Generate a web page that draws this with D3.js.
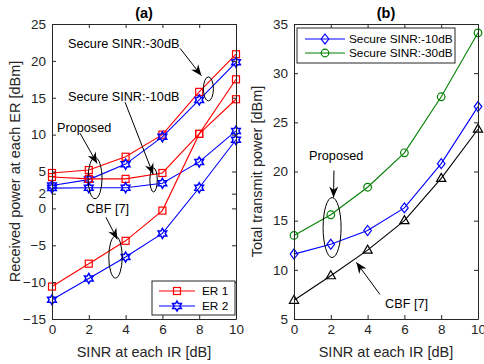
<!DOCTYPE html>
<head>
  <meta charset="utf-8">
  <title> Received and transmit power </title>
  <script src="https://d3js.org/d3.v7.min.js"></script>
  <style type="text/css">
    body {margin: 0; background: #fff;}
    text {font-family: 'Liberation Sans', Arial, sans-serif;}
    .tick line, .domain {stroke: #262626;}
  </style>
</head>

<body>
  <div id="viz"></div>
</body>

<script type="text/javascript">

  const sinr = [0, 2, 4, 6, 8, 10];

  // (a) received power at each ER [dBm]
  const er1Sec30 = [4.8, 5.2, 7.0, 10.0, 15.8, 20.9];
  const er2Sec30 = [3.1, 3.9, 6.0, 9.7, 14.7, 19.8];
  const er1Sec10 = [4.25, 4.0, 4.0, 4.8, 10.1, 14.8];
  const er2Sec10 = [2.75, 2.8, 2.8, 3.4, 6.3, 10.5];
  const er1Cbf = [-10.6, -7.5, -4.4, -0.3, 10.1, 17.5];
  const er2Cbf = [-12.4, -9.5, -6.6, -3.4, 2.8, 9.3];

  // (b) total transmit power [dBm]
  const totSec10 = [11.6, 12.6, 14.0, 16.3, 20.8, 26.6];
  const totSec30 = [13.5, 15.6, 18.4, 21.9, 27.6, 34.1];
  const totCbf = [6.9, 9.4, 12.0, 15.0, 19.3, 24.3];

  const xTicks = [0, 2, 4, 6, 8, 10];
  const yTicksA = [-15, -10, -5, 0, 2, 5, 10, 15, 20, 25];
  const yTicksB = [5, 10, 15, 20, 25, 30, 35];

  const legendA = ["ER 1", "ER 2"];
  const legendB = ["Secure SINR:-10dB", "Secure SINR:-30dB"];

  const colorSet = {
    "red": "#ff0000",
    "blue": "#0000ff",
    "green": "#008000",
    "black": "#000000",
    "axis": "#262626"
  };

  const FULLW = 484;
  const FULLH = 364;
  const TOP = 24, BOTTOM = 319;

  let svg = d3.select("#viz").append("svg")
    .attr("width", FULLW)
    .attr("height", FULLH);

  svg.append("rect").attr("width", FULLW).attr("height", FULLH).attr("fill", "#fff");

  // marker shapes
  function square(g, x, y, c) {
    g.append("rect").attr("x", x - 3.5).attr("y", y - 3.5).attr("width", 7).attr("height", 7)
      .attr("fill", "none").attr("stroke", c).attr("stroke-width", 1.2);
  }
  function hexagram(g, x, y, c) {
    const R = 5, r = R / Math.sqrt(3);
    const pts = [];
    for (let k = 0; k < 12; k++) {
      const a = -Math.PI / 2 + k * Math.PI / 6;
      const rr = k % 2 === 0 ? R : r;
      pts.push([x + rr * Math.cos(a), y + rr * Math.sin(a)]);
    }
    g.append("polygon").attr("points", pts.join(" "))
      .attr("fill", "none").attr("stroke", c).attr("stroke-width", 1.5);
  }
  function diamond(g, x, y, c) {
    g.append("polygon").attr("points", [[x, y - 5], [x + 3.8, y], [x, y + 5], [x - 3.8, y]].join(" "))
      .attr("fill", "none").attr("stroke", c).attr("stroke-width", 1.2);
  }
  function circle(g, x, y, c) {
    g.append("circle").attr("cx", x).attr("cy", y).attr("r", 3.8)
      .attr("fill", "none").attr("stroke", c).attr("stroke-width", 1.2);
  }
  function triangle(g, x, y, c) {
    g.append("polygon").attr("points", [[x, y - 5], [x + 4.6, y + 3], [x - 4.6, y + 3]].join(" "))
      .attr("fill", "none").attr("stroke", c).attr("stroke-width", 1.2);
  }

  function drawSeries(g, sx, sy, values, color, marker) {
    const line = d3.line().x((d, i) => sx(sinr[i])).y(d => sy(d));
    g.append("path").attr("d", line(values))
      .attr("fill", "none").attr("stroke", color).attr("stroke-width", 1.1);
    values.forEach((d, i) => marker(g, sx(sinr[i]), sy(d), color));
  }

  function arrow(g, x1, y1, x2, y2) {
    g.append("line").attr("x1", x1).attr("y1", y1).attr("x2", x2).attr("y2", y2)
      .attr("stroke", "#000").attr("stroke-width", 1);
    const a = Math.atan2(y2 - y1, x2 - x1);
    const L = 11, W = 4.5, N = 3.5;
    const ca = Math.cos(a), sa = Math.sin(a);
    const bx = x2 - L * ca, by = y2 - L * sa;
    const pts = [
      [x2, y2],
      [bx - W * sa, by + W * ca],
      [x2 - (L - N) * ca, y2 - (L - N) * sa],
      [bx + W * sa, by - W * ca]
    ];
    g.append("polygon").attr("points", pts.join(" ")).attr("fill", "#000");
  }

  function ellipse(g, cx, cy, rx, ry) {
    g.append("ellipse").attr("cx", cx).attr("cy", cy).attr("rx", rx).attr("ry", ry)
      .attr("fill", "none").attr("stroke", "#000").attr("stroke-width", 1);
  }

  function label(g, x, y, t, size, anchor) {
    g.append("text").attr("x", x).attr("y", y).attr("dy", "0.35em")
      .attr("font-size", size).attr("text-anchor", anchor || "start")
      .attr("fill", "#000").text(t);
  }

  function drawFrame(g, sx, sy, yTicks, left, right, title, ylabel) {
    const T = 4;
    g.append("g").attr("transform", "translate(0," + BOTTOM + ")")
      .call(d3.axisBottom(sx).tickValues(xTicks).tickSize(-T).tickSizeOuter(0).tickPadding(5));
    g.append("g").attr("transform", "translate(0," + TOP + ")")
      .call(d3.axisTop(sx).tickValues(xTicks).tickSize(-T).tickSizeOuter(0).tickFormat(""));
    g.append("g").attr("transform", "translate(" + left + ",0)")
      .call(d3.axisLeft(sy).tickValues(yTicks).tickSize(-T).tickSizeOuter(0).tickPadding(6));
    g.append("g").attr("transform", "translate(" + right + ",0)")
      .call(d3.axisRight(sy).tickValues(yTicks).tickSize(-T).tickSizeOuter(0).tickFormat(""));
    g.selectAll(".domain").attr("stroke", colorSet.axis);
    g.selectAll(".tick text").attr("font-size", 13.5).attr("fill", colorSet.axis)
      .attr("font-family", "'Liberation Sans', Arial, sans-serif");

    const mid = (left + right) / 2;
    g.append("text").attr("x", mid).attr("y", 13).attr("dy", "0.35em")
      .attr("text-anchor", "middle").attr("font-size", 14.5).attr("font-weight", "bold")
      .attr("fill", "#000").text(title);
    g.append("text").attr("x", mid).attr("y", 352).attr("dy", "0.35em")
      .attr("text-anchor", "middle").attr("font-size", 14.5).attr("fill", colorSet.axis)
      .text("SINR at each IR [dB]");
    g.append("text")
      .attr("transform", "translate(" + (left - 37) + "," + ((TOP + BOTTOM) / 2) + ") rotate(-90)")
      .attr("dy", "0.35em").attr("text-anchor", "middle").attr("font-size", 14.5)
      .attr("fill", colorSet.axis).text(ylabel);
  }

  ////// (a)
  const xA = d3.scaleLinear().domain([0, 10]).range([52, 236]);
  const yA = d3.scaleLinear().domain([-15, 25]).range([BOTTOM, TOP]);
  const gA = svg.append("g");

  drawSeries(gA, xA, yA, er1Sec30, colorSet.red, square);
  drawSeries(gA, xA, yA, er2Sec30, colorSet.blue, hexagram);
  drawSeries(gA, xA, yA, er1Sec10, colorSet.red, square);
  drawSeries(gA, xA, yA, er2Sec10, colorSet.blue, hexagram);
  drawSeries(gA, xA, yA, er1Cbf, colorSet.red, square);
  drawSeries(gA, xA, yA, er2Cbf, colorSet.blue, hexagram);

  drawFrame(gA, xA, yA, yTicksA, 52, 236, "(a)", "Received power at each ER [dBm]");

  // annotations (a)
  label(gA, xA(0.87), yA(22.4), "Secure SINR:-30dB", 12.7);
  arrow(gA, xA(6.96), yA(21.7), xA(8.12), yA(18.0));
  ellipse(gA, xA(8.5), yA(16.2), 5, 12);

  label(gA, xA(0.87), yA(15.1), "Secure SINR:-10dB", 12.7);
  arrow(gA, xA(3.97), yA(14.4), xA(5.5), yA(4.6));
  ellipse(gA, xA(5.52), yA(3.85), 3.7, 12);

  label(gA, xA(0.27), yA(11.0), "Proposed", 12.7);
  arrow(gA, xA(1.52), yA(10.2), xA(2.45), yA(6.1));
  ellipse(gA, xA(2.34), yA(4.1), 7, 20.5);

  label(gA, xA(1.85), yA(0.0), "CBF [7]", 12.7);
  arrow(gA, xA(2.93), yA(-1.2), xA(3.55), yA(-4.2));
  ellipse(gA, xA(3.45), yA(-6.6), 6.7, 21);

  // legend (a)
  const legA = gA.append("g");
  legA.append("rect").attr("x", 152).attr("y", 281).attr("width", 83).attr("height", 34)
    .attr("fill", "#fff").attr("stroke", colorSet.axis).attr("stroke-width", 1);
  [[colorSet.red, square], [colorSet.blue, hexagram]].forEach((s, i) => {
    const y = 291 + i * 15;
    legA.append("line").attr("x1", 159).attr("x2", 195).attr("y1", y).attr("y2", y)
      .attr("stroke", s[0]).attr("stroke-width", 1.1);
    s[1](legA, 177, y, s[0]);
    legA.append("text").attr("x", 202).attr("y", y).attr("dy", "0.35em")
      .attr("font-size", 11.8).attr("fill", "#000").text(legendA[i]);
  });

  ////// (b)
  const xB = d3.scaleLinear().domain([0, 10]).range([294, 478]);
  const yB = d3.scaleLinear().domain([5, 35]).range([BOTTOM, TOP]);
  const gB = svg.append("g");

  drawSeries(gB, xB, yB, totSec10, colorSet.blue, diamond);
  drawSeries(gB, xB, yB, totSec30, colorSet.green, circle);
  drawSeries(gB, xB, yB, totCbf, colorSet.black, triangle);

  drawFrame(gB, xB, yB, yTicksB, 294, 478, "(b)", "Total transmit power [dBm]");

  label(gB, xB(0.82), yB(21.65), "Proposed", 12.7);
  arrow(gB, xB(2.17), yB(20.1), xB(2.15), yB(17.35));
  ellipse(gB, xB(2.07), yB(14.3), 9, 30);

  label(gB, xB(4.95), yB(6.6), "CBF [7]", 12.7);
  arrow(gB, xB(4.67), yB(7.5), xB(3.39), yB(10.76));

  // legend (b)
  const legB = gB.append("g");
  legB.append("rect").attr("x", 297).attr("y", 28).attr("width", 158).attr("height", 35)
    .attr("fill", "#fff").attr("stroke", colorSet.axis).attr("stroke-width", 1);
  [[colorSet.blue, diamond], [colorSet.green, circle]].forEach((s, i) => {
    const y = 39 + i * 14;
    legB.append("line").attr("x1", 305).attr("x2", 345).attr("y1", y).attr("y2", y)
      .attr("stroke", s[0]).attr("stroke-width", 1.1);
    s[1](legB, 325, y, s[0]);
    legB.append("text").attr("x", 349).attr("y", y).attr("dy", "0.35em")
      .attr("font-size", 11.8).attr("fill", "#000").text(legendB[i]);
  });

</script>
</html>
